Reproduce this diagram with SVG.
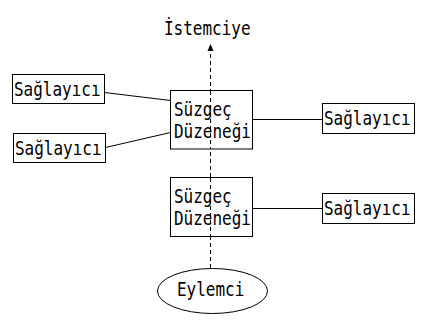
<svg xmlns="http://www.w3.org/2000/svg" width="423" height="331" viewBox="0 0 423 331">
<defs>
<style>
.box{fill:#fff;stroke:#000;stroke-width:1}
.ln{stroke:#000;stroke-width:1;fill:none}
.dash{stroke:#000;stroke-width:1;fill:none;stroke-dasharray:4,3}
text{font-family:"DejaVu Sans Mono","Liberation Mono",monospace;font-size:16px;fill:#000}
</style>
<marker id="ah" markerWidth="6" markerHeight="8" refX="3" refY="1" orient="auto-start-reverse" markerUnits="userSpaceOnUse" viewBox="0 0 6 8">
<path d="M0,7 L3,0 L6,7 Z" fill="#000"/>
</marker>
</defs>
<rect width="423" height="331" fill="#fff"/>
<g id="connectors">
<line class="dash" x1="210.5" y1="268" x2="210.5" y2="51"/>
<path d="M207.5,51 L210.5,44 L213.5,51 Z" fill="#000"/>
<line class="ln" x1="104.5" y1="92.5" x2="170.5" y2="100.5"/>
<line class="ln" x1="105.5" y1="147.5" x2="170.5" y2="132.5"/>
<line class="ln" x1="252.5" y1="119.5" x2="322.5" y2="119.5"/>
<line class="ln" x1="252.5" y1="208.5" x2="322.5" y2="208.5"/>
</g>
<g id="istemciye">
<text transform="translate(164,35) scale(1,1.2)">İstemciye</text>
</g>
<g id="saglayici1">
<rect class="box" x="12.5" y="74.5" width="92" height="29"/>
<text transform="translate(14,96) scale(1,1.2)">Sağlayıcı</text>
</g>
<g id="saglayici2">
<rect class="box" x="13.5" y="133.5" width="92" height="29"/>
<text transform="translate(15,155) scale(1,1.2)">Sağlayıcı</text>
</g>
<g id="saglayici3">
<rect class="box" x="322.5" y="103.5" width="92" height="30"/>
<text transform="translate(324,125) scale(1,1.2)">Sağlayıcı</text>
</g>
<g id="saglayici4">
<rect class="box" x="322.5" y="193.5" width="92" height="30"/>
<text transform="translate(324,215) scale(1,1.2)">Sağlayıcı</text>
</g>
<g id="suzgec1">
<rect class="box" x="170.5" y="90.5" width="82" height="58.5"/>
<line class="dash" x1="210.5" y1="91" x2="210.5" y2="148.5"/>
<text transform="translate(174,115.5) scale(1,1.2)">Süzgeç</text>
<text transform="translate(174,138) scale(1,1.2)">Düzeneği</text>
</g>
<g id="suzgec2">
<rect class="box" x="170.5" y="177.5" width="82" height="59"/>
<line class="dash" x1="210.5" y1="178" x2="210.5" y2="236"/>
<text transform="translate(174,202.5) scale(1,1.2)">Süzgeç</text>
<text transform="translate(174,225) scale(1,1.2)">Düzeneği</text>
</g>
<g id="eylemci">
<ellipse class="box" cx="212.5" cy="291" rx="55" ry="22.5"/>
<text transform="translate(177,296) scale(1,1.2)">Eylemci</text>
</g>
</svg>
